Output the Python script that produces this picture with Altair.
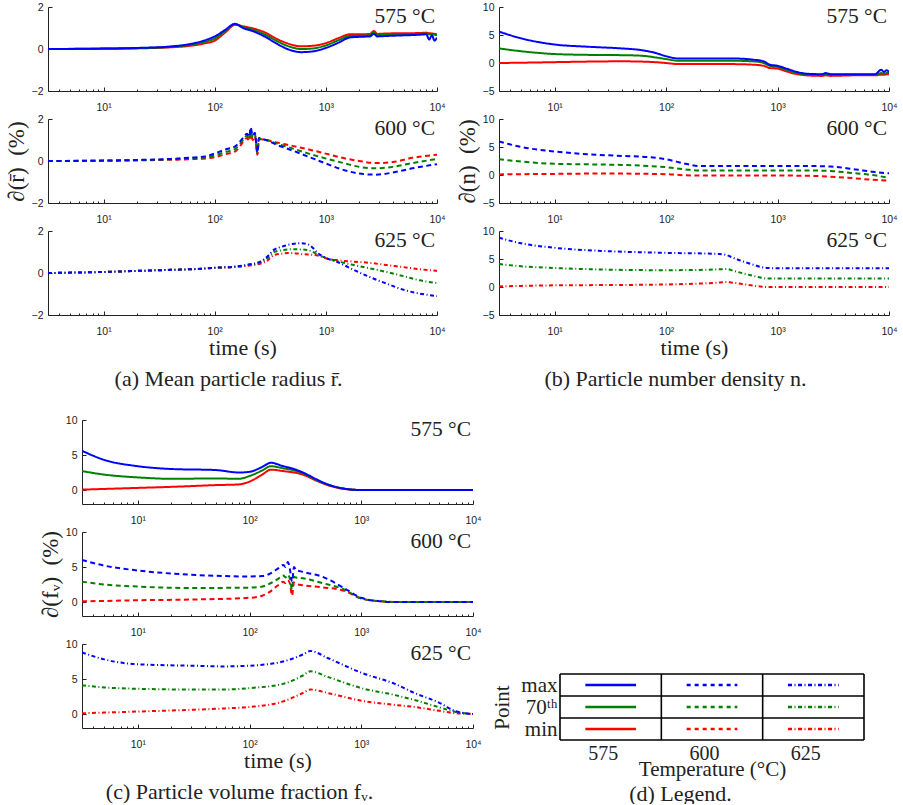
import altair as alt
import pandas as pd

# ---------------- (a) mean particle radius ----------------
a575_t = [3.16, 10, 20, 40, 60, 80, 100, 125, 152, 180, 220, 280, 350, 450, 600, 750, 1000, 1300, 1650, 2000, 2500, 2700, 2900, 3500, 5000, 7000, 8000, 8500, 9000, 9500, 10000]
a575_max = [0, 0.02, 0.05, 0.12, 0.24, 0.4, 0.6, 0.92, 1.2, 1.0, 0.85, 0.6, 0.3, 0.0, -0.15, -0.12, 0.05, 0.3, 0.55, 0.58, 0.6, 0.72, 0.6, 0.62, 0.65, 0.68, 0.7, 0.45, 0.65, 0.4, 0.55]
a575_p70 = [0, 0.02, 0.04, 0.1, 0.2, 0.33, 0.5, 0.86, 1.18, 1.05, 0.92, 0.7, 0.42, 0.15, 0.0, 0.02, 0.17, 0.42, 0.62, 0.63, 0.66, 0.8, 0.66, 0.68, 0.7, 0.72, 0.74, 0.7, 0.7, 0.68, 0.65]
a575_min = [0, 0.01, 0.03, 0.08, 0.15, 0.26, 0.4, 0.8, 1.15, 1.08, 0.98, 0.8, 0.52, 0.27, 0.13, 0.15, 0.28, 0.52, 0.7, 0.7, 0.72, 0.86, 0.72, 0.74, 0.75, 0.76, 0.78, 0.75, 0.74, 0.72, 0.7]

a600_t = [3.16, 10, 20, 40, 64, 82, 100, 125, 153, 180, 195, 205, 210, 220, 230, 242, 250, 265, 290, 350, 500, 700, 1000, 1500, 2000, 2800, 4000, 6000, 10000]
a600_max = [0, 0.02, 0.05, 0.1, 0.17, 0.22, 0.36, 0.55, 0.7, 1.1, 1.3, 1.15, 1.6, 1.2, 1.35, 0.4, 1.1, 1.05, 1.0, 0.8, 0.5, 0.2, -0.12, -0.45, -0.6, -0.65, -0.55, -0.35, -0.15]
a600_p70 = [0, 0.02, 0.04, 0.08, 0.13, 0.17, 0.27, 0.43, 0.58, 1.0, 1.2, 1.05, 1.45, 1.1, 1.28, 0.35, 1.08, 1.04, 1.0, 0.85, 0.6, 0.35, 0.12, -0.12, -0.28, -0.35, -0.28, -0.1, 0.1]
a600_min = [0, 0.01, 0.03, 0.06, 0.09, 0.12, 0.18, 0.32, 0.46, 0.9, 1.1, 0.95, 1.3, 1.0, 1.2, 0.3, 1.05, 1.03, 1.0, 0.9, 0.72, 0.55, 0.35, 0.12, 0.0, -0.1, -0.05, 0.15, 0.3]

a625_t = [3.16, 10, 20, 40, 75, 100, 150, 200, 260, 300, 340, 400, 500, 600, 700, 890, 1000, 1300, 1700, 2500, 3500, 5000, 7000, 10000]
a625_max = [0, 0.05, 0.1, 0.15, 0.2, 0.25, 0.3, 0.4, 0.55, 0.8, 1.1, 1.25, 1.38, 1.42, 1.35, 0.86, 0.72, 0.5, 0.2, -0.2, -0.5, -0.8, -0.98, -1.1]
a625_p70 = [0, 0.05, 0.1, 0.15, 0.2, 0.25, 0.3, 0.38, 0.5, 0.7, 1.0, 1.08, 1.13, 1.12, 1.08, 0.82, 0.72, 0.55, 0.4, 0.22, 0.05, -0.15, -0.35, -0.48]
a625_min = [0, 0.05, 0.1, 0.15, 0.2, 0.25, 0.28, 0.35, 0.45, 0.6, 0.85, 0.92, 0.95, 0.9, 0.88, 0.8, 0.7, 0.6, 0.55, 0.48, 0.38, 0.28, 0.18, 0.1]

# ---------------- (b) particle number density ----------------
b575_t = [3.16, 5, 10, 20, 40, 60, 80, 100, 130, 200, 400, 600, 750, 850, 1000, 1200, 1500, 1800, 2500, 2700, 3000, 5000, 7500, 8500, 9000, 9500, 10000]
b575_max = [5.6, 4.4, 3.3, 2.9, 2.6, 2.3, 1.8, 1.2, 0.8, 0.8, 0.8, 0.6, 0.3, -0.3, -0.5, -1.0, -1.6, -1.9, -2.0, -1.8, -2.0, -2.0, -2.0, -1.2, -1.6, -1.3, -1.6]
b575_p70 = [2.6, 2.1, 1.6, 1.45, 1.4, 1.3, 1.0, 0.7, 0.4, 0.4, 0.4, 0.3, 0.0, -0.5, -0.7, -1.2, -1.8, -2.0, -2.1, -2.0, -2.1, -2.1, -2.1, -1.8, -1.9, -1.8, -1.8]
b575_min = [0.0, 0.05, 0.15, 0.25, 0.3, 0.25, 0.15, 0.0, -0.2, -0.2, -0.2, -0.3, -0.5, -0.9, -1.0, -1.5, -2.0, -2.2, -2.3, -2.2, -2.3, -2.2, -2.2, -2.1, -2.1, -2.0, -2.0]

b600_t = [3.16, 5, 10, 20, 40, 70, 100, 150, 200, 300, 1000, 2000, 3000, 5000, 7000, 10000]
b600_max = [6.0, 5.0, 4.2, 3.7, 3.4, 3.2, 2.8, 2.0, 1.6, 1.6, 1.6, 1.6, 1.5, 1.0, 0.6, 0.3]
b600_p70 = [2.8, 2.4, 2.0, 1.9, 1.8, 1.6, 1.4, 1.0, 0.8, 0.8, 0.8, 0.8, 0.7, 0.3, 0.0, -0.5]
b600_min = [0.1, 0.15, 0.2, 0.25, 0.25, 0.2, 0.15, -0.05, -0.1, -0.1, -0.1, -0.15, -0.3, -0.6, -0.85, -1.0]

b625_t = [3.16, 5, 10, 30, 100, 300, 350, 400, 500, 600, 700, 800, 1000, 10000]
b625_max = [8.8, 7.8, 7.0, 6.4, 6.1, 5.9, 5.7, 5.2, 4.5, 4.0, 3.6, 3.4, 3.35, 3.35]
b625_p70 = [4.1, 3.7, 3.4, 3.1, 3.0, 3.15, 3.2, 2.9, 2.4, 2.0, 1.7, 1.5, 1.5, 1.5]
b625_min = [0.1, 0.2, 0.3, 0.35, 0.45, 0.8, 0.9, 0.75, 0.5, 0.25, 0.1, 0.0, 0.0, 0.0]

# ---------------- (c) particle volume fraction ----------------
c575_t = [3.16, 5, 10, 20, 50, 80, 100, 130, 155, 200, 250, 300, 400, 500, 700, 1000, 10000]
c575_max = [5.6, 4.3, 3.4, 3.0, 2.85, 2.5, 2.6, 3.3, 3.9, 3.4, 3.0, 2.5, 1.5, 0.8, 0.2, 0.0, 0.0]
c575_p70 = [2.7, 2.2, 1.8, 1.6, 1.65, 1.6, 2.0, 2.8, 3.4, 3.1, 2.8, 2.4, 1.4, 0.8, 0.2, 0.0, 0.0]
c575_min = [0.05, 0.15, 0.3, 0.45, 0.7, 0.8, 1.2, 2.2, 2.9, 2.7, 2.5, 2.2, 1.3, 0.7, 0.15, 0.0, 0.0]

c600_t = [3.16, 5, 10, 30, 100, 130, 150, 180, 200, 210, 220, 230, 240, 250, 260, 300, 450, 700, 1000, 1500, 2000, 10000]
c600_max = [6.0, 5.2, 4.5, 3.9, 3.65, 3.7, 4.0, 4.8, 5.3, 5.0, 5.7, 4.6, 2.9, 5.0, 4.6, 4.3, 3.6, 2.0, 0.6, 0.1, 0.0, 0.0]
c600_p70 = [2.9, 2.5, 2.2, 2.0, 2.05, 2.2, 2.6, 3.3, 3.8, 3.5, 3.9, 3.3, 1.8, 3.6, 3.5, 3.4, 2.7, 1.8, 0.5, 0.1, 0.0, 0.0]
c600_min = [0.1, 0.15, 0.25, 0.35, 0.6, 0.9, 1.4, 2.4, 2.9, 2.7, 3.1, 2.6, 0.9, 2.8, 2.6, 2.4, 2.1, 1.6, 0.5, 0.1, 0.0, 0.0]

c625_t = [3.16, 5, 10, 30, 60, 100, 200, 300, 350, 500, 1000, 2000, 3000, 5000, 7000, 10000]
c625_max = [8.8, 7.8, 7.1, 6.9, 6.8, 6.9, 7.5, 8.5, 9.0, 8.0, 5.9, 4.3, 3.0, 1.6, 0.4, 0.0]
c625_p70 = [4.1, 3.8, 3.6, 3.5, 3.5, 3.7, 4.3, 5.5, 6.1, 5.3, 3.7, 2.7, 2.0, 0.95, 0.3, 0.0]
c625_min = [0.1, 0.2, 0.35, 0.6, 0.8, 1.0, 1.8, 3.0, 3.5, 3.0, 1.9, 1.3, 1.0, 0.45, 0.1, 0.0]

# ---------------- (d) legend ----------------
leg_temps = ["575", "600", "625"]
leg_rows = ["min", "70\u1d57\u02b0", "max"]          # bottom to top
series_names = ["min", "70th", "max"]     # draw order (max on top)
series_colors = ["#ff0000", "#008000", "#0000ff"]

# ---------------- styling ----------------
SANS = "Liberation Sans"
SERIF = "Liberation Serif"
TXT = "#222222"
DASH = {"575": [1, 0], "600": [5, 3.5], "625": [4, 2.5, 1, 2.5]}
LEG_DASH = [[1, 0], [4, 4], [4, 2.5, 1, 2.5]]
XDOM = [10 ** 0.5, 10000]
MAJOR = [10, 100, 1000, 10000]
MINOR = [k * d for d in [1, 10, 100, 1000] for k in range(2, 10) if k * d > 3.2]
H = 84
V_SP = 1          # spacing between stacked panels (full bounds)
LABEL_EXPR = ("'10' + (datum.value == 10 ? '\u00b9' : datum.value == 100 ? '\u00b2' : "
              "datum.value == 1000 ? '\u00b3' : '\u2074')")


def long_df(t, mx, p70, mn):
    rows = []
    for name, vals in zip(series_names, (mn, p70, mx)):
        for ti, vi in zip(t, vals):
            rows.append({"t": ti, "v": vi, "s": name})
    return pd.DataFrame(rows)


def panel(t, mx, p70, mn, temp, ydom, yvals, width, ytitle=None, ytp=3, xtitle=None,
          caption=None, capx=0):
    df = long_df(t, mx, p70, mn)
    xs = alt.Scale(type="log", domain=XDOM, nice=False)
    ys = alt.Scale(domain=ydom, nice=False, zero=False)

    x_main = dict(orient="bottom", values=MAJOR, labelExpr=LABEL_EXPR, ticks=False,
                  labelFont=SANS, labelFontSize=10.5, labelColor=TXT, labelPadding=11,
                  labelFlush=False, labelOverlap=False, domainColor=TXT, domainWidth=1,
                  grid=False)
    if xtitle:
        x_main.update(title=xtitle, titleFont=SERIF, titleFontSize=22,
                      titleFontWeight="normal", titleColor=TXT, titlePadding=1)
    else:
        x_main.update(title=None)
    y_main = dict(orient="left", values=yvals, ticks=False, labelFont=SANS,
                  labelFontSize=10.5, labelColor=TXT, labelPadding=5, labelFlush=False,
                  labelOverlap=False, domainColor=TXT, domainWidth=1, grid=False)
    if ytitle:
        y_main.update(title=ytitle, titleFont=SERIF, titleFontSize=23,
                      titleFontWeight="normal", titleColor=TXT, titlePadding=ytp)
    else:
        y_main.update(title=None)

    lines = alt.Chart(df).mark_line(
        strokeWidth=2, interpolate="monotone", strokeDash=DASH[temp], clip=True
    ).encode(
        x=alt.X("t:Q", scale=xs, axis=alt.Axis(**x_main)),
        y=alt.Y("v:Q", scale=ys, axis=alt.Axis(**y_main)),
        color=alt.Color("s:N", scale=alt.Scale(domain=series_names, range=series_colors),
                        legend=None),
    )

    major = alt.Chart(df).mark_point(opacity=0, size=0).encode(
        x=alt.X("t:Q", scale=xs, axis=alt.Axis(orient="bottom", values=MAJOR, labels=False,
                                               domain=False, tickSize={"expr": "-4"},
                                               tickColor=TXT, title=None, grid=False)),
        y=alt.Y("v:Q", scale=ys, axis=alt.Axis(orient="left", values=yvals, labels=False,
                                               domain=False, tickSize={"expr": "-4"},
                                               tickColor=TXT, title=None, grid=False)),
    )

    minor_axis = dict(orient="bottom", values=MINOR, labels=False, domain=False,
                      tickSize={"expr": "-2"}, tickColor=TXT, grid=False)
    if caption:
        minor_axis.update(title=caption, titleFont=SERIF, titleFontSize=22,
                          titleFontWeight="normal", titleColor=TXT, titlePadding=53,
                          titleX=capx, titleAlign="center", titleAnchor="start")
    else:
        minor_axis.update(title=None)
    minor = alt.Chart(df).mark_point(opacity=0, size=0).encode(
        x=alt.X("t:Q", scale=xs, axis=alt.Axis(**minor_axis)),
        y=alt.Y("v:Q", scale=ys, axis=None),
    )

    label = alt.Chart(pd.DataFrame({"label": [temp + " \u00b0C"]})).mark_text(
        align="right", baseline="alphabetic", font=SERIF, fontSize=21.5, color=TXT
    ).encode(x=alt.value(width - 2), y=alt.value(16), text="label:N")

    return alt.layer(lines, major, minor, label).resolve_axis(
        x="independent", y="independent").properties(width=width, height=H)


def column(sets, ydom, yvals, width, ytitle, ytp, caption, capx):
    temps = ["575", "600", "625"]
    charts = []
    for i, (temp, s) in enumerate(zip(temps, sets)):
        charts.append(panel(*s, temp, ydom, yvals, width,
                            ytitle=ytitle if i == 1 else None, ytp=ytp,
                            xtitle="time (s)" if i == 2 else None,
                            caption=caption if i == 2 else None, capx=capx))
    return alt.vconcat(*charts, spacing=V_SP)


def spacer(w, h):
    return alt.Chart(pd.DataFrame({"z": [0]})).mark_point(opacity=0, size=0).encode(
        x=alt.X("z:Q", axis=None), y=alt.Y("z:Q", axis=None)
    ).properties(width=w, height=h)


col_a = column([(a575_t, a575_max, a575_p70, a575_min),
                (a600_t, a600_max, a600_p70, a600_min),
                (a625_t, a625_max, a625_p70, a625_min)],
               [-2, 2], [-2, 0, 2], 389, "\u2202(r\u0304)\u2002(%)", 3,
               "(a)  Mean particle radius r\u0304.", 180)
col_b = column([(b575_t, b575_max, b575_p70, b575_min),
                (b600_t, b600_max, b600_p70, b600_min),
                (b625_t, b625_max, b625_p70, b625_min)],
               [-5, 10], [-5, 0, 5, 10], 390, "\u2202(n)\u2002(%)", 3,
               "(b)  Particle number density n.", 176)
col_c = column([(c575_t, c575_max, c575_p70, c575_min),
                (c600_t, c600_max, c600_p70, c600_min),
                (c625_t, c625_max, c625_p70, c625_min)],
               [-2, 10], [0, 5, 10], 391, "\u2202(f\u1d65)\u2002(%)", 3,
               "(c)  Particle volume fraction f\u1d65.", 157)

# ---- legend table ----
seg_rows = []
for i, tc in enumerate(leg_temps):
    for j, sname in enumerate(series_names):
        seg_rows.append({"x": i + 0.25, "x2": i + 0.75, "y": j + 0.5, "s": sname, "temp": tc})
seg_df = pd.DataFrame(seg_rows)
bounds_df = pd.DataFrame({"b": list(range(len(leg_temps) + 1))})
lx = alt.Scale(domain=[0, 3], nice=False, zero=False)
ly = alt.Scale(domain=[0, 3], nice=False, zero=False)

segs = alt.Chart(seg_df).mark_rule(strokeWidth=2.5).encode(
    x=alt.X("x:Q", scale=lx, axis=alt.Axis(
        orient="bottom", values=[0.5, 1.5, 2.5], ticks=False, domain=False, grid=False,
        labelExpr="['575','600','625'][floor(datum.value)]", labelFont=SERIF,
        labelFontSize=20, labelColor=TXT, labelPadding=3, labelOffset=-8,
        title="Temperature (\u00b0C)", titleFont=SERIF, titleFontSize=21,
        titleFontWeight="normal", titleColor=TXT, titlePadding=-5)),
    x2="x2:Q",
    y=alt.Y("y:Q", scale=ly, axis=alt.Axis(
        orient="left", values=[0.5, 1.5, 2.5], ticks=False, domain=False, grid=False,
        labelExpr="['min','70\u1d57\u02b0','max'][floor(datum.value)]", labelFont=SERIF,
        labelFontSize=21, labelColor=TXT, labelPadding=3,
        title="Point", titleFont=SERIF, titleFontSize=21, titleFontWeight="normal",
        titleColor=TXT, titlePadding=8)),
    color=alt.Color("s:N", scale=alt.Scale(domain=series_names, range=series_colors),
                    legend=None),
    strokeDash=alt.StrokeDash("temp:N", scale=alt.Scale(domain=leg_temps, range=LEG_DASH),
                              legend=None),
)
vrules = alt.Chart(bounds_df).mark_rule(strokeWidth=1.6, color="#000000").encode(
    x=alt.X("b:Q", scale=lx, axis=alt.Axis(
        orient="bottom", labels=False, ticks=False, domain=False, grid=False,
        title="(d)  Legend.", titleFont=SERIF, titleFontSize=22, titleFontWeight="normal",
        titleColor=TXT, titlePadding=43, titleX=120, titleAlign="center",
        titleAnchor="start")),
)
hrules = alt.Chart(bounds_df).mark_rule(strokeWidth=1.6, color="#000000").encode(
    y=alt.Y("b:Q", scale=ly, axis=None),
)
legend = alt.layer(segs, vrules, hrules).resolve_axis(
    x="independent", y="independent").properties(width=304, height=66)

col_d = alt.vconcat(spacer(1, 253), legend, spacing=0)

row1 = alt.hconcat(spacer(1, 1), col_a, col_b, spacing=10)
row2 = alt.hconcat(spacer(45, 1), col_c, spacer(9, 1), col_d, spacing=0)

chart = alt.concat(row1, row2, columns=1, align="none", spacing=25).properties(
    padding={"left": -6, "top": 2, "right": 2, "bottom": 0}
).configure(background="white").configure_view(stroke=None).configure_axis(
    titleFontWeight="normal")

chart.save("out.html", embed_options={"renderer": "svg", "actions": False})
